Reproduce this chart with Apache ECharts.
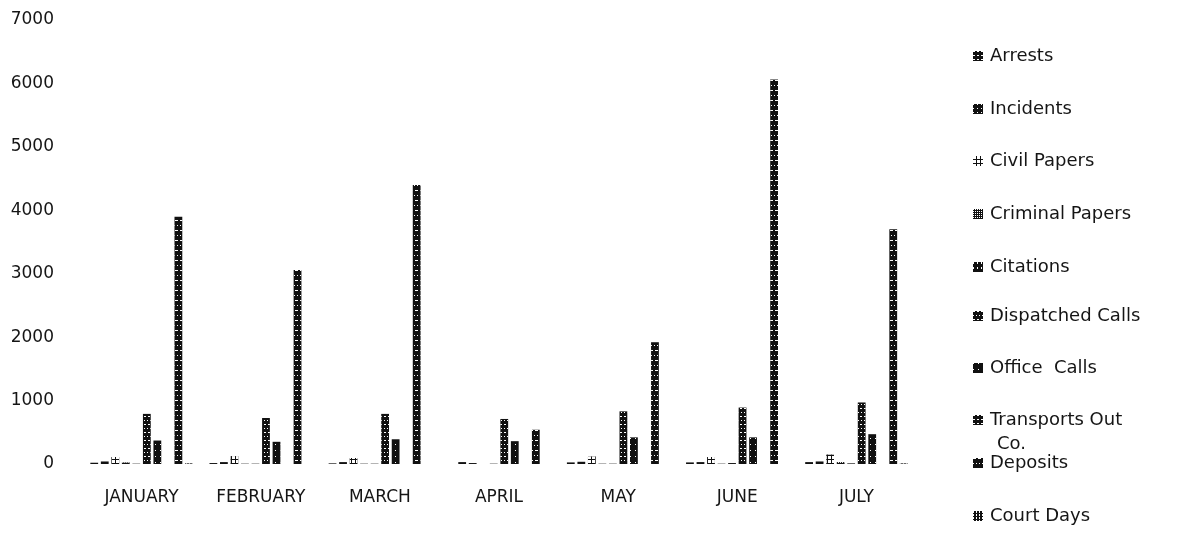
<!DOCTYPE html>
<html>
<head>
<meta charset="utf-8">
<script src="https://cdn.jsdelivr.net/npm/echarts@6/dist/echarts.min.js"></script>
<style>
  html, body { margin: 0; padding: 0; background: #fff; }
  #chart { width: 1180px; height: 536px; }
</style>
</head>
<body>
<div id="chart"></div>
<script>
// months along the x axis
const months = ['JANUARY', 'FEBRUARY', 'MARCH', 'APRIL', 'MAY', 'JUNE', 'JULY'];

// one array per series
const arrests         = [20, 15, 10, 0, 25, 25, 30];
const incidents       = [40, 30, 30, 30, 35, 30, 40];
const civilPapers     = [110, 125, 95, 15, 120, 110, 150];
const criminalPapers  = [25, 5, 5, 0, 5, 5, 30];
const citations       = [5, 5, 5, 5, 5, 15, 10];
const dispatchedCalls = [790, 725, 790, 710, 830, 890, 970];
const officeCalls     = [370, 350, 390, 360, 420, 420, 470];
const transportsOut   = [0, 0, 0, 0, 0, 0, 0];
const deposits        = [3900, 3060, 4400, 540, 1920, 6060, 3700];
const courtDays       = [10, 0, 0, 0, 0, 0, 10];

const seriesNames = ['Arrests', 'Incidents', 'Civil Papers', 'Criminal Papers', 'Citations',
  'Dispatched Calls', 'Office  Calls', 'Transports Out Co.', 'Deposits', 'Court Days'];
const seriesValues = [arrests, incidents, civilPapers, criminalPapers, citations,
  dispatchedCalls, officeCalls, transportsOut, deposits, courtDays];

// y ticks
const yMin = 0, yMax = 7000, yStep = 1000;

var chart = echarts.init(document.getElementById('chart'));

// rough imitation of the excel pattern fills
const decals = [
  { symbol: 'rect', symbolSize: 1, dashArrayX: [[2, 2]], dashArrayY: [1, 3], color: '#fff' },
  { symbol: 'rect', symbolSize: 1, dashArrayX: [[1, 3]], dashArrayY: [1, 3], color: '#fff' },
  { symbol: 'rect', symbolSize: 1, dashArrayX: [[3, 1]], dashArrayY: [3, 1], color: '#fff' },
  { symbol: 'rect', symbolSize: 1, dashArrayX: [[1, 1]], dashArrayY: [1, 1], color: '#fff' },
  { symbol: 'rect', symbolSize: 1, dashArrayX: [[1, 3]], dashArrayY: [2, 3], color: '#fff' },
  { symbol: 'rect', symbolSize: 1, dashArrayX: [[1, 2], [2, 2]], dashArrayY: [1, 3], color: '#fff' },
  { symbol: 'rect', symbolSize: 1, dashArrayX: [[1, 4]], dashArrayY: [1, 5], color: '#fff' },
  { symbol: 'rect', symbolSize: 1, dashArrayX: [[2, 2]], dashArrayY: [1, 3], color: '#fff' },
  { symbol: 'rect', symbolSize: 1, dashArrayX: [[1, 2], [3, 2]], dashArrayY: [1, 4], color: '#fff' },
  { symbol: 'rect', symbolSize: 1, dashArrayX: [[1, 2]], dashArrayY: [2, 1], color: '#fff' }
];

const textFont = { fontFamily: 'DejaVu Sans', fontSize: 18, color: '#151515' };

// legend: one small legend per entry so the spacing follows the scan
const legendCenters = [56, 109, 161, 214, 267, 316, 368, 420, 463, 516];
const legends = seriesNames.map(function (name, i) {
  return {
    data: [name],
    orient: 'vertical',
    left: 973,
    top: legendCenters[i] - 11,
    padding: 0,
    icon: 'rect',
    itemWidth: 10,
    itemHeight: 10,
    itemGap: 0,
    selectedMode: false,
    textStyle: Object.assign({}, textFont, { padding: [0, 0, 0, 2], lineHeight: 22 }),
    formatter: function (n) { return n === 'Transports Out Co.' ? 'Transports Out' : n; }
  };
});

let option = {
  animation: false,
  backgroundColor: '#fff',
  grid: { left: 82, right: 264, top: 20, bottom: 72, containLabel: false },
  legend: legends,
  graphic: [{
    type: 'text',
    left: 997,
    top: 435,
    style: { text: 'Co.', font: '18px "DejaVu Sans"', fill: '#151515' }
  }],
  xAxis: {
    type: 'category',
    data: months,
    axisLine: { show: false },
    axisTick: { show: false },
    axisLabel: Object.assign({}, textFont, { fontSize: 17, margin: 25, interval: 0 })
  },
  yAxis: {
    type: 'value',
    min: yMin,
    max: yMax,
    interval: yStep,
    axisLine: { show: false },
    axisTick: { show: false },
    splitLine: { show: false },
    axisLabel: Object.assign({}, textFont, {
      fontSize: 17,
      margin: 28,
      formatter: function (v) { return String(v); }
    })
  },
  series: seriesNames.map(function (name, i) {
    return {
      name: name,
      type: 'bar',
      data: seriesValues[i],
      barGap: '35%',
      barCategoryGap: '14%',
      itemStyle: { color: '#111', decal: decals[i] }
    };
  })
};

chart.setOption(option);
</script>
</body>
</html>
